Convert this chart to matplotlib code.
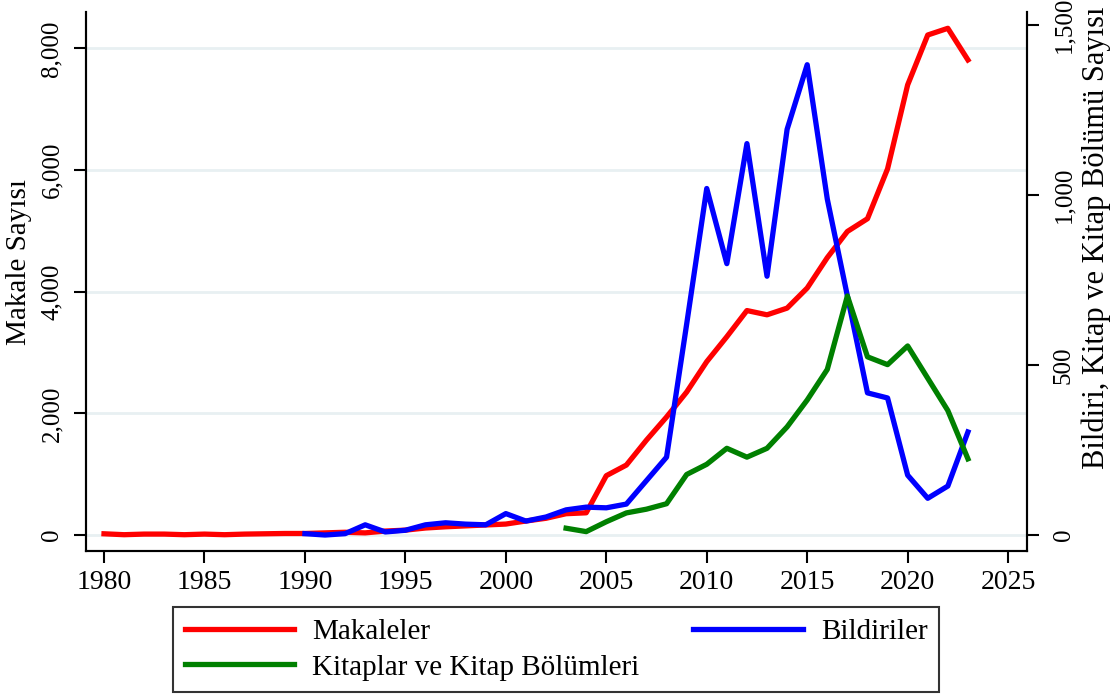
import matplotlib
matplotlib.use("Agg")
import matplotlib.pyplot as plt
from matplotlib.ticker import FuncFormatter

plt.rcParams['font.family'] = ['Liberation Serif', 'DejaVu Serif']

# Makaleler (left axis), 1980-2023
years_mak = list(range(1980, 2024))
makaleler = [20, 5, 15, 15, 5, 15, 5, 15, 20, 25,
             25, 35, 45, 35, 65, 80, 115, 135, 150, 165,
             180, 230, 275, 350, 365, 975, 1150, 1560, 1940, 2350,
             2850, 3260, 3690, 3620, 3730, 4060, 4560, 4990, 5200, 6020,
             7400, 8220, 8330, 7810]

# Bildiriler (right axis), 1990-2023
years_bil = list(range(1990, 2024))
bildiriler = [4, 0, 4, 30, 9, 14, 30, 36, 32, 30,
              63, 41, 53, 74, 82, 80, 91, 160, 229, 620,
              1019, 798, 1151, 761, 1193, 1383, 988, 703, 418, 403,
              176, 108, 144, 303]

# Kitaplar ve Kitap Bolumleri (right axis), 2003-2023
years_kit = list(range(2003, 2024))
kitaplar = [20, 10, 39, 65, 76, 92, 178, 208, 255, 229,
            255, 318, 397, 487, 703, 524, 501, 556, 461, 366, 224]

x_ticks = [1980, 1985, 1990, 1995, 2000, 2005, 2010, 2015, 2020, 2025]
left_ticks = [0, 2000, 4000, 6000, 8000]
right_ticks = [0, 500, 1000, 1500]

fig = plt.figure(figsize=(11.13, 6.95), dpi=100)
ax = fig.add_axes([0.07727, 0.20719, 0.84546, 0.77554])
ax2 = ax.twinx()

ax.set_axisbelow(True)
ax.grid(axis='y', color='#E8F0F2', linewidth=2)

l1, = ax.plot(years_mak, makaleler, color='#FF0000', linewidth=3.8, label='Makaleler')
l2, = ax2.plot(years_bil, bildiriler, color='#0000FF', linewidth=3.8, label='Bildiriler')
l3, = ax2.plot(years_kit, kitaplar, color='#008000', linewidth=3.8, label='Kitaplar ve Kitap Bölümleri')

ax.set_xlim(1979.104, 2025.94)
ax.set_ylim(-263, 8598)
ax2.set_ylim(-47, 1538)

fmt = FuncFormatter(lambda v, p: '{:,.0f}'.format(v))
ax.set_xticks(x_ticks)
ax.set_yticks(left_ticks)
ax2.set_yticks(right_ticks)
ax.yaxis.set_major_formatter(fmt)
ax2.yaxis.set_major_formatter(fmt)

for a in (ax, ax2):
    a.spines['top'].set_visible(False)
    for s in a.spines.values():
        s.set_linewidth(1.5)
ax.tick_params(axis='x', labelsize=20, length=8.6, width=1.5, pad=5)
ax.tick_params(axis='y', labelsize=18, length=8.6, width=1.5, pad=8)
ax2.tick_params(axis='y', labelsize=18, length=8.6, width=1.5, pad=10)
for t in ax.get_yticklabels():
    t.set_rotation(90)
    t.set_va('center')
for t in ax2.get_yticklabels():
    t.set_rotation(90)
    t.set_va('center')

ax.set_ylabel('Makale Sayısı', fontsize=21)
ax.yaxis.set_label_coords(-0.057, 0.536)
ax2.set_ylabel('Bildiri, Kitap ve Kitap Bölümü Sayısı', fontsize=22)
ax2.yaxis.set_label_coords(1.058, 0.581)

leg = fig.legend(handles=[l1, l3, l2], loc='lower center', ncol=2,
                 bbox_to_anchor=(0.4995, 0.004), borderaxespad=0,
                 fontsize=21, frameon=True, fancybox=False,
                 handlelength=3.75, handletextpad=0.62,
                 columnspacing=1.85, labelspacing=0.3, borderpad=0.4)
leg.get_frame().set_edgecolor('black')
leg.get_frame().set_linewidth(1.5)

fig.savefig('out.png', dpi=100)
